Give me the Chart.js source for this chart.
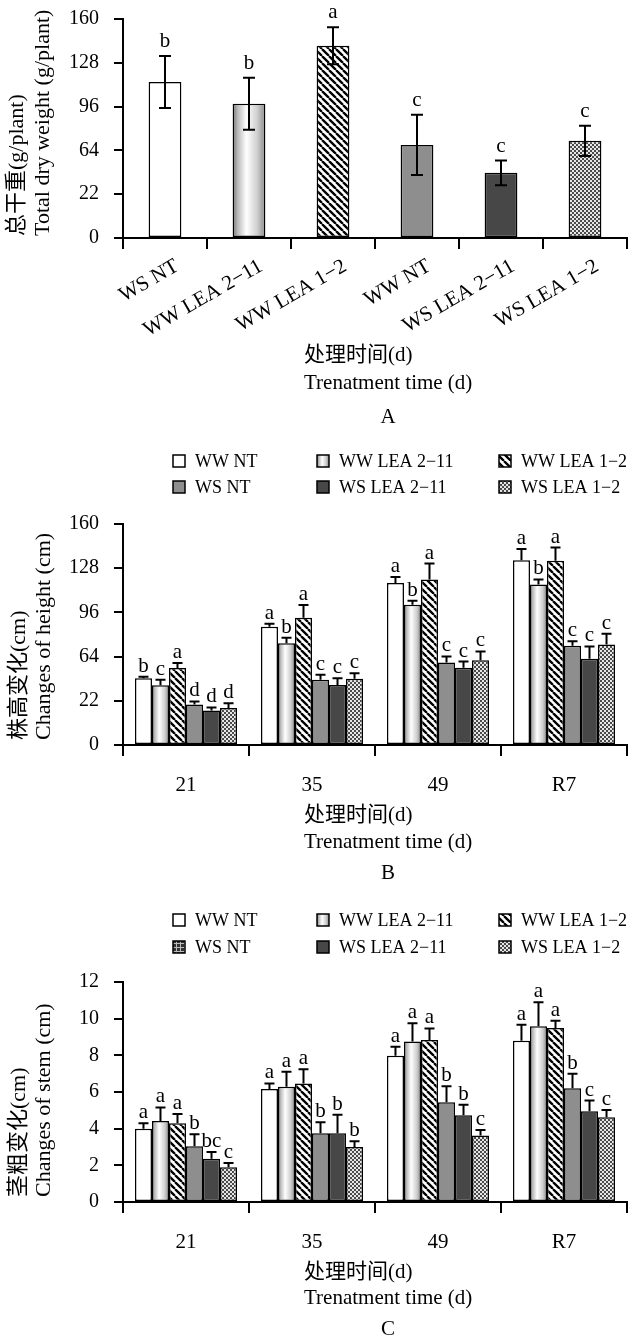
<!DOCTYPE html>
<html><head><meta charset="utf-8">
<script src="https://cdn.jsdelivr.net/npm/chart.js@4.4.1/dist/chart.umd.min.js"></script>
<style>
html,body{margin:0;padding:0;background:#fff;}
body{width:632px;height:1338px;position:relative;overflow:hidden;}
canvas{position:absolute;left:0;}
</style></head><body>
<canvas id="cA" width="632" height="440" style="top:0px"></canvas>
<canvas id="cB" width="632" height="455" style="top:440px"></canvas>
<canvas id="cC" width="632" height="443" style="top:895px"></canvas>
<script>
// ---------- DATA ----------
const seriesNames = ["WW NT", "WW LEA 2−11", "WW LEA 1−2", "WS NT", "WS LEA 2−11", "WS LEA 1−2"];

// Panel A
const catsA = ["WS NT", "WW LEA 2−11", "WW LEA 1−2", "WW NT", "WS LEA 2−11", "WS LEA 1−2"];
const valuesA = [114, 98, 140.5, 68, 47.6, 71];
const errorsA = [19, 19, 13.5, 22, 9, 11];
const lettersA = ["b", "b", "a", "c", "c", "c"];
const ticksA = ["0", "22", "64", "96", "128", "160"];

// Panel B (plant height change)
const daysB = ["21", "35", "49", "R7"];
const hWWNT = [48.4, 85.7, 117.2, 133.8];
const hWW211 = [43.3, 73.6, 101.5, 116.2];
const hWW12 = [55.8, 92.2, 119.9, 133.4];
const hWSNT = [29.4, 47.2, 59.7, 71.9];
const hWS211 = [25.0, 43.5, 56.0, 62.4];
const hWS12 = [26.7, 47.9, 61.4, 72.7];
const hErrWWNT = [1.0, 2.1, 4.4, 8.1];
const hErrWW211 = [3.9, 4.1, 2.9, 3.7];
const hErrWW12 = [3.6, 9.1, 11.5, 9.5];
const hErrWSNT = [2.1, 3.6, 4.4, 3.2];
const hErrWS211 = [2.2, 4.9, 4.4, 9.0];
const hErrWS12 = [3.6, 4.1, 6.3, 7.8];
const hLetWWNT = ["b", "a", "a", "a"];
const hLetWW211 = ["c", "b", "b", "b"];
const hLetWW12 = ["a", "a", "a", "a"];
const hLetWSNT = ["d", "c", "c", "c"];
const hLetWS211 = ["d", "c", "c", "c"];
const hLetWS12 = ["d", "c", "c", "c"];
const ticksB = ["0", "22", "64", "96", "128", "160"];

// Panel C (stem diameter change)
const daysC = ["21", "35", "49", "R7"];
const sWWNT = [4.0, 6.16, 7.98, 8.8];
const sWW211 = [4.42, 6.29, 8.75, 9.58];
const sWW12 = [4.29, 6.47, 8.84, 9.49];
const sWSNT = [3.04, 3.75, 5.44, 6.2];
const sWS211 = [2.36, 3.75, 4.73, 4.95];
const sWS12 = [1.89, 3.0, 3.63, 4.62];
const sErrWWNT = [0.29, 0.31, 0.49, 0.87];
const sErrWW211 = [0.74, 0.82, 1.0, 1.31];
const sErrWW12 = [0.51, 0.77, 0.63, 0.4];
const sErrWSNT = [0.65, 0.6, 0.87, 0.8];
const sErrWS211 = [0.37, 1.01, 0.58, 0.58];
const sErrWS12 = [0.24, 0.31, 0.3, 0.4];
const sLetWWNT = ["a", "a", "a", "a"];
const sLetWW211 = ["a", "a", "a", "a"];
const sLetWW12 = ["a", "a", "a", "a"];
const sLetWSNT = ["b", "b", "b", "b"];
const sLetWS211 = ["bc", "b", "b", "c"];
const sLetWS12 = ["c", "b", "c", "c"];
const ticksC = ["0", "2", "4", "6", "8", "10", "12"];

// ---------- STYLE HELPERS ----------
const SERIF = '"Liberation Serif", "Noto Sans CJK SC", serif';
const kinds = ["white", "gradient", "hatch", "gray", "dark", "dots"];

function tile(w, h, draw) {
  const c = document.createElement('canvas'); c.width = w; c.height = h;
  draw(c.getContext('2d')); return c;
}
const hatchTile = tile(7, 7, g => {
  g.fillStyle = '#fff'; g.fillRect(0, 0, 7, 7);
  g.strokeStyle = '#000'; g.lineWidth = 2.3; g.beginPath();
  for (const a of [-7, 0, 7]) { g.moveTo(a, 0); g.lineTo(a + 7, 7); }
  g.stroke();
});
const dotsTile = tile(4, 4, g => {
  g.fillStyle = '#e6e6e6'; g.fillRect(0, 0, 4, 4);
  g.fillStyle = '#4a4a4a'; g.fillRect(0, 0, 2, 2); g.fillRect(2, 2, 2, 2);
});
const gridTile = tile(4, 4, g => {
  g.fillStyle = '#333'; g.fillRect(0, 0, 4, 4);
  g.fillStyle = '#bbb'; g.fillRect(0, 0, 4, 1); g.fillRect(0, 0, 1, 4);
});

function gradientFor(ctx2d, x0, x1) {
  if (!isFinite(x0) || !isFinite(x1) || x1 <= x0) return '#cccccc';
  const gr = ctx2d.createLinearGradient(x0, 0, x1, 0);
  gr.addColorStop(0, '#6e6e6e');
  gr.addColorStop(0.15, '#b8b8b8');
  gr.addColorStop(0.42, '#ffffff');
  gr.addColorStop(0.75, '#cfcfcf');
  gr.addColorStop(1, '#8a8a8a');
  return gr;
}
function fillFor(kind, ctx2d, x0, x1) {
  switch (kind) {
    case 'white': return '#ffffff';
    case 'gradient': return gradientFor(ctx2d, x0, x1);
    case 'hatch': return ctx2d.createPattern(hatchTile, 'repeat');
    case 'gray': return '#8e8e8e';
    case 'dark': return '#474747';
    case 'dots': return ctx2d.createPattern(dotsTile, 'repeat');
    case 'grid': return ctx2d.createPattern(gridTile, 'repeat');
  }
  return '#fff';
}
// bar bounds computed from the library's x scale
function barBounds(chart, dsIndex, index, nDs, catPct, barPct) {
  const x = chart.scales.x;
  if (!x || !isFinite(x.width)) return [NaN, NaN];
  const cw = x.width / x.getLabels().length;
  const center = x.getPixelForValue(index);
  const groupW = cw * catPct, slot = groupW / nDs;
  const c = center - groupW / 2 + slot * (dsIndex + 0.5);
  const w = slot * barPct;
  return [c - w / 2, c + w / 2];
}

// ---------- PLUGINS ----------
const errPlugin = {
  id: 'err',
  afterDatasetsDraw(chart, args, o) {
    const { ctx } = chart; const y = chart.scales.y;
    chart.data.datasets.forEach((ds, di) => {
      const meta = chart.getDatasetMeta(di);
      meta.data.forEach((bar, i) => {
        const v = ds.data[i], e = ds.errors[i];
        const yTop = y.getPixelForValue(v + e);
        const yBot = o.twoSided ? y.getPixelForValue(v - e) : y.getPixelForValue(v);
        ctx.save();
        ctx.strokeStyle = '#000'; ctx.lineWidth = 2;
        ctx.beginPath();
        ctx.moveTo(bar.x, yBot); ctx.lineTo(bar.x, yTop);
        ctx.moveTo(bar.x - o.cap, yTop); ctx.lineTo(bar.x + o.cap, yTop);
        if (o.twoSided) { ctx.moveTo(bar.x - o.cap, yBot); ctx.lineTo(bar.x + o.cap, yBot); }
        ctx.stroke();
        ctx.fillStyle = '#000'; ctx.font = '21px ' + SERIF;
        ctx.textAlign = 'center'; ctx.textBaseline = 'alphabetic';
        ctx.fillText(ds.letters[i], bar.x, yTop - o.gap);
        ctx.restore();
      });
    });
  }
};
const decoPlugin = {
  id: 'deco',
  afterDraw(chart, args, o) {
    const { ctx } = chart;
    ctx.save();
    ctx.fillStyle = '#000';
    o.yTitle.forEach(t => {
      ctx.save();
      ctx.translate(t.x, o.yStart); ctx.rotate(-Math.PI / 2);
      ctx.font = '22px ' + SERIF; ctx.textAlign = 'left'; ctx.textBaseline = 'middle';
      ctx.fillText(t.text, 0, 0);
      ctx.restore();
    });
    ctx.font = '21px ' + SERIF; ctx.textAlign = 'left'; ctx.textBaseline = 'middle';
    o.xTitle.forEach(t => ctx.fillText(t.text, o.xLeft, t.y));
    ctx.textAlign = 'center';
    ctx.fillText(o.panel.text, o.panel.x, o.panel.y);
    if (o.legend) {
      const L = o.legend;
      ctx.font = '18px ' + SERIF; ctx.textAlign = 'left'; ctx.textBaseline = 'middle';
      seriesNames.forEach((name, i) => {
        const r = Math.floor(i / 3), c = i % 3;
        const bx = L.cols[c], by = L.rows[r];
        const k = L.kinds[i];
        ctx.fillStyle = fillFor(k, ctx, bx, bx + 12);
        ctx.fillRect(bx, by - 6, 12, 12);
        ctx.strokeStyle = '#000'; ctx.lineWidth = 1.5;
        ctx.strokeRect(bx, by - 6, 12, 12);
        ctx.fillStyle = '#000';
        ctx.fillText(name, bx + 22, by + 1);
      });
    }
    ctx.restore();
  }
};

// ---------- CHART FACTORY ----------
function axisOpts(cfg) {
  return {
    x: {
      type: 'category', offset: true,
      grid: { offset: true, drawOnChartArea: false, drawTicks: true, tickLength: 11, color: '#000', lineWidth: 2 },
      border: { display: true, color: '#000', width: 2 },
      ticks: Object.assign({ color: '#000', font: { family: SERIF, size: 21 }, padding: cfg.xPad, autoSkip: false }, cfg.xTicks || {}),
      afterFit(s) { s.height = cfg.xHeight; }
    },
    y: {
      min: 0, max: cfg.max,
      ticks: { stepSize: cfg.step, color: '#000', font: { family: SERIF, size: 20 }, padding: 15,
        callback: (v, i) => cfg.tickLabels[i] },
      grid: { drawOnChartArea: false, drawTicks: true, tickLength: 9, color: '#000', lineWidth: 2 },
      border: { display: true, color: '#000', width: 2 },
      afterFit(s) { s.width = 123; s.paddingTop = 0; s.paddingBottom = 0; }
    }
  };
}
function common(cfg) {
  return {
    responsive: false, animation: false, devicePixelRatio: 1,
    layout: { padding: { top: cfg.top, right: 5, left: 0, bottom: 0 } },
    plugins: { legend: { display: false }, tooltip: { enabled: false }, title: { display: false },
      err: cfg.err, deco: cfg.deco },
    scales: axisOpts(cfg)
  };
}

const chartA = new Chart(document.getElementById('cA'), {
  type: 'bar',
  data: {
    labels: catsA,
    datasets: [{
      data: valuesA, errors: errorsA, letters: lettersA,
      barPercentage: 0.39, categoryPercentage: 1,
      borderColor: '#000', borderWidth: 1.5, borderSkipped: false,
      backgroundColor: c => {
        if (c.type !== 'data') return '#fff';
        const [x0, x1] = barBounds(c.chart, 0, c.dataIndex, 1, 1, 0.39);
        return fillFor(kinds[c.dataIndex], c.chart.ctx, x0, x1);
      }
    }]
  },
  options: common({
    top: 19, xHeight: 202, xPad: 5, max: 160, step: 32, tickLabels: ticksA,
    xTicks: { minRotation: 30, maxRotation: 30, labelOffset: 12 },
    err: { twoSided: true, cap: 6, gap: 9 },
    deco: {
      yTitle: [{ text: '总干重(g/plant)', x: 17 }, { text: 'Total dry weight (g/plant)', x: 43 }], yStart: 236,
      xTitle: [{ text: '处理时间(d)', y: 355 }, { text: 'Trenatment time (d)', y: 383 }], xLeft: 304,
      panel: { text: 'A', x: 388, y: 417 }, legend: null
    }
  }),
  plugins: [errPlugin, decoPlugin]
});

function groupedDatasets(vals, errs, lets) {
  return vals.map((v, i) => ({
    label: seriesNames[i], data: v, errors: errs[i], letters: lets[i],
    barPercentage: 1, categoryPercentage: 0.81,
    borderColor: '#000', borderWidth: 1.5, borderSkipped: false,
    backgroundColor: c => {
      if (c.type !== 'data') return '#fff';
      const [x0, x1] = barBounds(c.chart, c.datasetIndex, c.dataIndex, 6, 0.81, 1);
      return fillFor(kinds[c.datasetIndex], c.chart.ctx, x0, x1);
    }
  }));
}

const chartB = new Chart(document.getElementById('cB'), {
  type: 'bar',
  data: {
    labels: daysB,
    datasets: groupedDatasets(
      [hWWNT, hWW211, hWW12, hWSNT, hWS211, hWS12],
      [hErrWWNT, hErrWW211, hErrWW12, hErrWSNT, hErrWS211, hErrWS12],
      [hLetWWNT, hLetWW211, hLetWW12, hLetWSNT, hLetWS211, hLetWS12])
  },
  options: common({
    top: 84, xHeight: 150, xPad: 17, max: 160, step: 32, tickLabels: ticksB,
    err: { twoSided: false, cap: 5, gap: 5 },
    deco: {
      yTitle: [{ text: '株高变化(cm)', x: 19 }, { text: 'Changes of height (cm)', x: 44 }], yStart: 300,
      xTitle: [{ text: '处理时间(d)', y: 375 }, { text: 'Trenatment time (d)', y: 402 }], xLeft: 304,
      panel: { text: 'B', x: 388, y: 433 },
      legend: { rows: [21, 47], cols: [173, 317, 499], kinds: kinds }
    }
  }),
  plugins: [errPlugin, decoPlugin]
});

const chartC = new Chart(document.getElementById('cC'), {
  type: 'bar',
  data: {
    labels: daysC,
    datasets: groupedDatasets(
      [sWWNT, sWW211, sWW12, sWSNT, sWS211, sWS12],
      [sErrWWNT, sErrWW211, sErrWW12, sErrWSNT, sErrWS211, sErrWS12],
      [sLetWWNT, sLetWW211, sLetWW12, sLetWSNT, sLetWS211, sLetWS12])
  },
  options: common({
    top: 87, xHeight: 136, xPad: 17, max: 12, step: 2, tickLabels: ticksC,
    err: { twoSided: false, cap: 5, gap: 5 },
    deco: {
      yTitle: [{ text: '茎粗变化(cm)', x: 19 }, { text: 'Changes of stem (cm)', x: 44 }], yStart: 302,
      xTitle: [{ text: '处理时间(d)', y: 377 }, { text: 'Trenatment time (d)', y: 403 }], xLeft: 304,
      panel: { text: 'C', x: 388, y: 434 },
      legend: { rows: [25, 52], cols: [173, 317, 499], kinds: ["white", "gradient", "hatch", "grid", "dark", "dots"] }
    }
  }),
  plugins: [errPlugin, decoPlugin]
});
[chartA, chartB, chartC].forEach(ch => ch.update('none'));
</script>
</body></html>
